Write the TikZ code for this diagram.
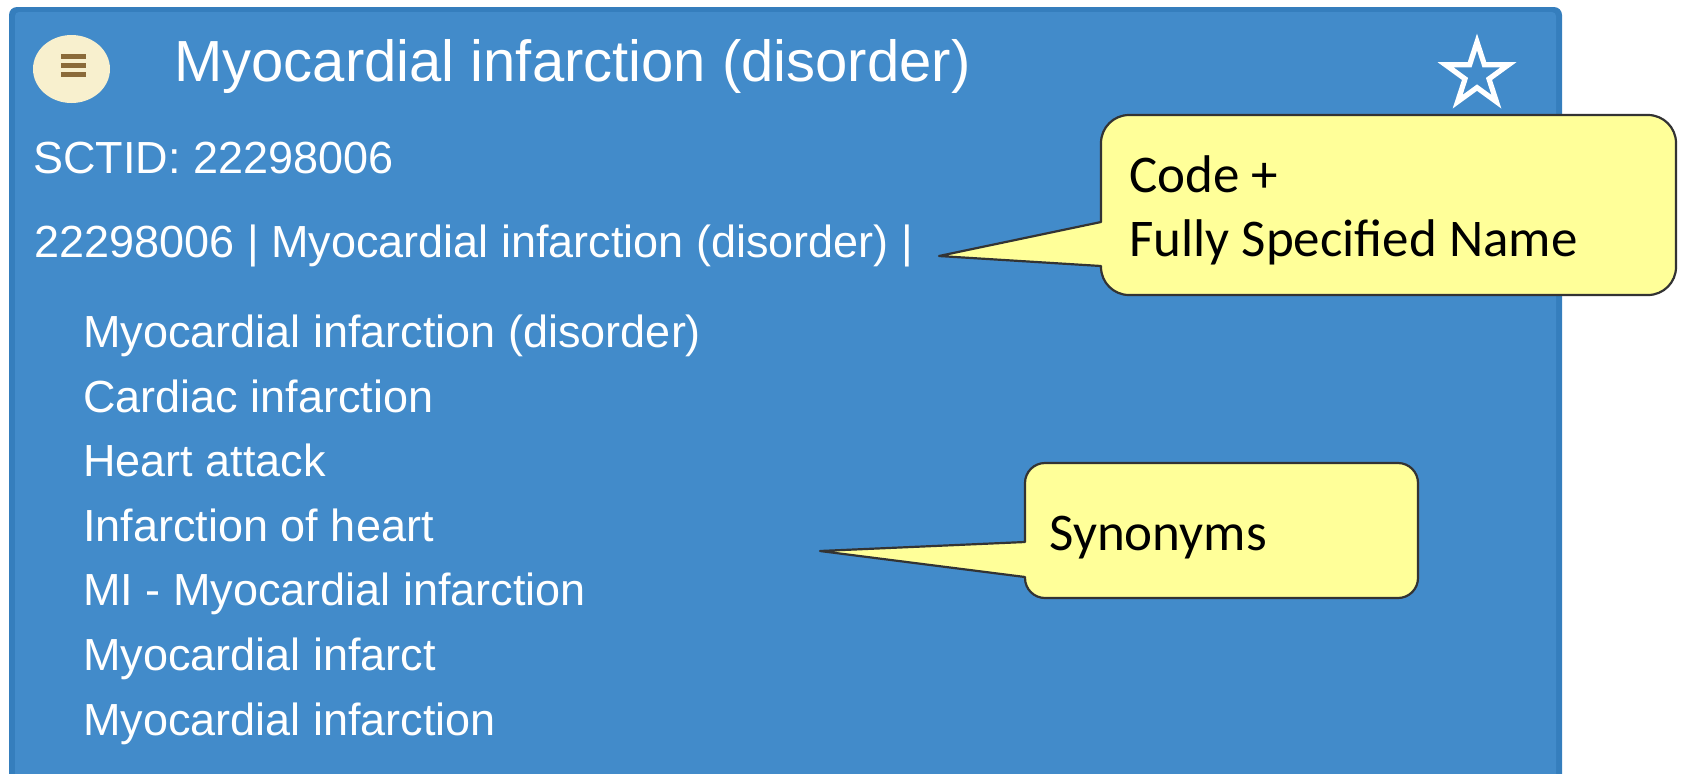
\documentclass[tikz,border=0pt]{standalone}
\usepackage{fontspec}
\setmainfont{Liberation Sans}
\newfontfamily\calloutfont{Carlito}
\definecolor{panelfill}{HTML}{428BCA}
\definecolor{panelborder}{HTML}{357EBD}
\definecolor{iconfill}{HTML}{F8F0CE}
\definecolor{iconline}{HTML}{8B6B3A}
\definecolor{calloutfill}{HTML}{FFFF99}
\definecolor{calloutline}{HTML}{333333}
\tikzset{
  paneltext/.style={anchor=base west, inner sep=0pt, text=white},
  titletext/.style={paneltext, font=\fontsize{29}{34}\selectfont},
  itemtext/.style={paneltext, font=\fontsize{22.5}{27}\selectfont},
  callouttext/.style={anchor=base west, inner sep=0pt, text=black, font=\fontsize{26.5}{32}\calloutfont},
  calloutbox/.style={fill=calloutfill, draw=calloutline, line width=1.1pt, line join=round},
  starline/.style={draw=white, line width=2.6pt, line join=miter}
}
\begin{document}
\begin{tikzpicture}[x=0.5pt, y=-0.5pt]
\useasboundingbox (0,0) rectangle (1687,773);
\clip (0,0) rectangle (1687,773);

% concept panel
\fill[panelborder, rounded corners=4pt] (9,7) rectangle (1562,800);
\fill[panelfill, rounded corners=2pt] (15,12) rectangle (1556,800);

% menu button
\fill[iconfill] (71.5,69) ellipse [x radius=38.5, y radius=34];
\fill[iconline] (61,54) rectangle (86,59);
\fill[iconline] (61,63) rectangle (86,68);
\fill[iconline] (61,72) rectangle (86,77);

% favourite star
\draw[starline, shift={(1477,75)}]
  (-90:33) -- (-54:12.6) -- (-18:33) -- (18:12.6) -- (54:33)
  -- (90:12.6) -- (126:33) -- (162:12.6) -- (198:33) -- (234:12.6) -- cycle;

% header and descriptions
\node[titletext] (title) at (174,81) {Myocardial infarction (disorder)};
\node[itemtext] (sctid) at (33,173) {SCTID: 22298006};
\node[itemtext] (fsnline) at (34,257) {22298006 | Myocardial infarction (disorder) |};
\node[itemtext] (syn1) at (83,347) {Myocardial infarction (disorder)};
\node[itemtext] (syn2) at (83,412) {Cardiac infarction};
\node[itemtext] (syn3) at (83,476) {Heart attack};
\node[itemtext] (syn4) at (83,541) {Infarction of heart};
\node[itemtext] (syn5) at (83,605) {MI - Myocardial infarction};
\node[itemtext] (syn6) at (83,670) {Myocardial infarct};
\node[itemtext] (syn7) at (83,735) {Myocardial infarction};

% callout: code + fully specified name
\coordinate (fsntip) at (939,256);
\path[calloutbox] (fsntip) -- (1101,266) -- (1101,267)
  arc[start angle=180, end angle=90, radius=28] -- (1648,295)
  arc[start angle=90, end angle=0, radius=28] -- (1676,143)
  arc[start angle=0, end angle=-90, radius=28] -- (1129,115)
  arc[start angle=-90, end angle=-180, radius=28] -- (1101,222) -- cycle;
\node[callouttext] (code) at (1129,192) {Code +};
\node[callouttext] (fsn) at (1129,256) {Fully Specified Name};

% callout: synonyms
\coordinate (syntip) at (820,551);
\path[calloutbox] (syntip) -- (1025,577) -- (1025,578)
  arc[start angle=180, end angle=90, radius=20] -- (1398,598)
  arc[start angle=90, end angle=0, radius=20] -- (1418,483)
  arc[start angle=0, end angle=-90, radius=20] -- (1045,463)
  arc[start angle=-90, end angle=-180, radius=20] -- (1025,542) -- cycle;
\node[callouttext] (syn) at (1049,550) {Synonyms};
\end{tikzpicture}
\end{document}
